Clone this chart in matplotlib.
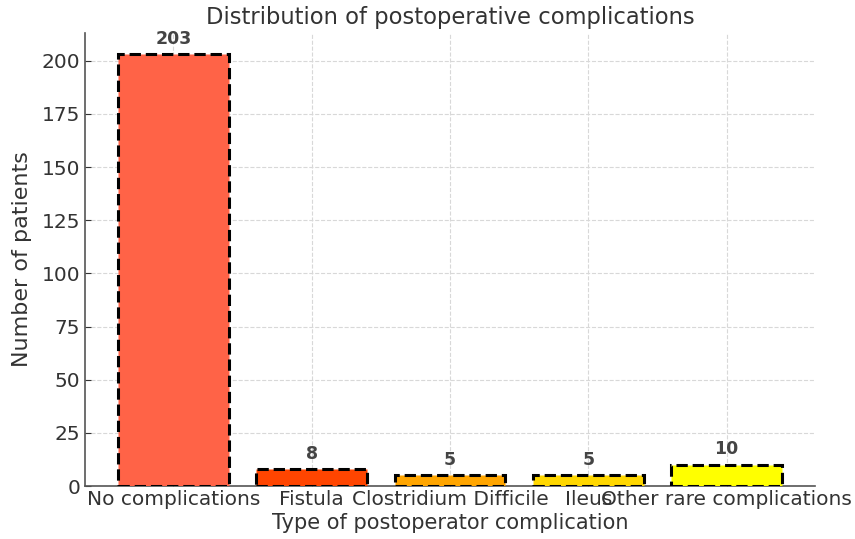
import matplotlib
matplotlib.use("Agg")
import matplotlib.pyplot as plt

# data
categories = ["No complications", "Fistula", "Clostridium Difficile", "Ileus", "Other rare complications"]
patients = [203, 8, 5, 5, 10]
colors = ["#FF6347", "#FF4500", "#FFA500", "#FFD700", "#FFFF00"]

fig = plt.figure(figsize=(8.55, 5.39), dpi=100)
ax = fig.add_axes([0.0994, 0.0983, 0.8538, 0.841])

bars = ax.bar(categories, patients, color=colors, edgecolor="black",
              linestyle="--", linewidth=2.2, zorder=3)

# value labels above the bars
for b, v in zip(bars, patients):
    ax.text(b.get_x() + b.get_width() / 2, v + 3, str(v), ha="center", va="bottom",
            fontsize=12.5, fontweight="bold", color="#444444")

ax.set_title("Distribution of postoperative complications", fontsize=16.3, color="#333333", pad=6)
ax.set_xlabel("Type of postoperator complication", fontsize=15, color="#333333", labelpad=3)
ax.set_ylabel("Number of patients", fontsize=16, color="#333333", labelpad=7)
ax.tick_params(labelsize=14.5, colors="#333333", direction="in", length=4)
ax.tick_params(axis="x", pad=3)
ax.grid(True, linestyle="--", color="#d8d8d8", linewidth=0.8, zorder=0)
ax.spines["top"].set_visible(False)
ax.spines["right"].set_visible(False)
for s in ["left", "bottom"]:
    ax.spines[s].set_color("#555555")
    ax.spines[s].set_linewidth(1.2)

fig.savefig("out.png", dpi=100)
